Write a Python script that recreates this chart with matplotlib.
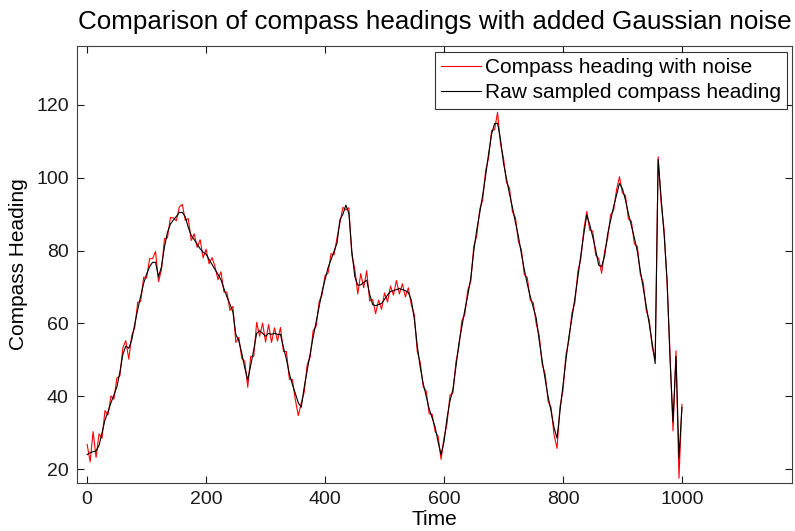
import numpy as np
import matplotlib
matplotlib.use("Agg")
import matplotlib.pyplot as plt

# time index (every 5th sample)
time = np.arange(0, 1001, 5)

# raw sampled compass heading
raw_heading = [
    24.0, 24.5, 24.8, 25.0, 26.5, 30.0, 33.5, 35.7, 38.2, 40.4,
    42.6, 46.6, 51.5, 53.8, 53.2, 55.5, 59.8, 63.8, 67.5, 71.0,
    73.6, 75.6, 76.8, 76.8, 72.8, 75.6, 81.0, 85.0, 87.3, 88.4,
    89.4, 90.5, 90.5, 89.3, 86.4, 84.2, 83.0, 81.8, 80.5, 79.6,
    79.0, 77.6, 76.2, 74.8, 73.5, 72.0, 69.6, 67.3, 65.3, 63.2,
    57.0, 55.2, 51.8, 47.8, 44.5, 48.5, 52.7, 57.3, 58.0, 57.3,
    56.5, 57.3, 57.0, 57.3, 57.0, 57.0, 53.5, 50.2, 46.2, 43.3,
    40.8, 38.2, 37.0, 42.6, 47.2, 51.8, 56.3, 60.4, 64.6, 68.8,
    72.0, 75.3, 77.5, 79.8, 82.0, 88.5, 90.0, 92.5, 90.2, 79.9,
    72.9, 70.5, 70.6, 71.3, 71.9, 68.0, 65.2, 64.9, 65.2, 65.5,
    66.6, 67.8, 68.8, 69.0, 69.3, 69.6, 69.3, 69.0, 68.5, 66.5,
    61.3, 53.9, 48.0, 43.5, 40.0, 36.6, 34.1, 31.6, 27.5, 24.0,
    27.5, 34.0, 38.7, 42.0, 48.1, 54.5, 59.1, 63.7, 67.8, 72.5,
    79.9, 85.7, 90.3, 95.3, 100.6, 106.7, 112.0, 114.9, 115.0, 110.5,
    104.0, 99.8, 95.6, 91.9, 87.8, 84.0, 79.2, 74.8, 70.8, 67.4,
    64.5, 61.5, 55.4, 49.8, 44.7, 39.9, 35.9, 31.4, 28.5, 36.0,
    43.0, 50.0, 56.4, 61.5, 66.9, 72.7, 78.8, 84.5, 89.8, 87.1,
    83.8, 80.2, 76.0, 75.6, 78.5, 84.5, 88.3, 92.0, 95.3, 98.5,
    97.0, 93.9, 90.2, 86.9, 83.5, 79.8, 74.5, 69.7, 64.8, 59.9,
    54.6, 49.0, 105.0, 94.5, 84.5, 72.0, 50.0, 33.0, 51.0, 23.0,
    37.0,
]

# compass heading with added noise
noisy_heading = [
    26.8, 22.0, 30.3, 23.2, 29.7, 28.5, 36.1, 34.9, 40.1, 39.2,
    45.0, 45.6, 53.3, 55.3, 50.2, 56.7, 58.9, 65.8, 66.1, 72.7,
    72.5, 77.8, 77.8, 79.8, 71.5, 74.8, 83.3, 83.5, 89.1, 89.0,
    88.2, 92.0, 92.7, 88.3, 88.8, 82.8, 84.6, 80.9, 83.0, 78.0,
    80.4, 76.4, 78.1, 75.6, 72.0, 74.2, 68.6, 68.6, 63.6, 64.7,
    54.8, 56.2, 50.4, 49.6, 42.5, 51.0, 50.9, 60.3, 56.5, 60.1,
    54.9, 59.7, 54.8, 58.8, 55.2, 58.9, 52.3, 52.3, 44.7, 44.6,
    39.1, 34.7, 38.2, 41.2, 48.8, 50.8, 58.1, 59.2, 66.0, 67.9,
    73.2, 73.8, 79.2, 78.8, 83.4, 87.7, 91.9, 91.2, 91.8, 78.8,
    74.9, 68.1, 73.7, 69.8, 74.5, 66.2, 66.6, 62.7, 66.4, 63.9,
    68.4, 65.9, 70.3, 67.8, 71.8, 68.1, 70.9, 67.3, 69.8, 65.1,
    62.4, 52.3, 49.3, 42.6, 41.5, 35.2, 35.1, 30.3, 29.1, 22.7,
    28.7, 32.5, 40.3, 40.9, 49.4, 53.6, 60.8, 62.5, 69.2, 71.5,
    81.2, 84.1, 91.4, 93.9, 102.1, 105.5, 113.0, 113.2, 118.0, 109.2,
    105.4, 98.7, 97.2, 90.7, 89.1, 82.5, 80.3, 73.4, 72.6, 66.4,
    65.7, 59.9, 56.8, 48.7, 46.2, 38.6, 36.9, 29.4, 25.7, 37.2,
    41.7, 51.5, 55.4, 62.9, 65.7, 74.3, 77.7, 85.8, 90.8, 85.6,
    85.4, 78.8, 77.8, 73.8, 79.8, 83.3, 89.8, 91.0, 96.7, 100.3,
    95.8, 95.2, 88.7, 88.1, 81.9, 81.2, 73.5, 71.2, 63.5, 61.0,
    53.4, 50.4, 105.8, 93.0, 85.7, 71.0, 51.8, 30.5, 52.5, 17.5,
    37.8,
]

plt.rcParams['font.family'] = ['Liberation Sans', 'DejaVu Sans']

fig = plt.figure(figsize=(7.95, 5.31), dpi=100)
ax = fig.add_axes([0.0969, 0.0904, 0.8993, 0.823])

ax.plot(time, noisy_heading, color='#ff0000', lw=0.8, label='Compass heading with noise')
ax.plot(time, raw_heading, color='black', lw=0.8, label='Raw sampled compass heading')

ax.set_xlim(-17, 1185)
ax.set_ylim(16.2, 136.2)
ax.set_xticks([0, 200, 400, 600, 800, 1000])
ax.set_yticks([20, 40, 60, 80, 100, 120])

ax.tick_params(direction='in', length=5, width=0.8, top=True, right=True,
               labelsize=14, colors='#1a1a1a', pad=6)
for s in ax.spines.values():
    s.set_color('#404040')
    s.set_linewidth(0.8)

ax.set_xlabel('Time', fontsize=15, labelpad=1)
ax.set_ylabel('Compass Heading', fontsize=15, labelpad=6)
ax.set_title('Comparison of compass headings with added Gaussian noise',
             fontsize=18.7, pad=12)

leg = ax.legend(loc='upper right', bbox_to_anchor=(787 / 795, 1 - 52 / 531),
                bbox_transform=fig.transFigure, fontsize=15, frameon=True,
                fancybox=False, borderaxespad=0, borderpad=0.3,
                labelspacing=0.3, handlelength=1.9, handletextpad=0.2)
leg.get_frame().set_edgecolor('black')
leg.get_frame().set_linewidth(0.8)

fig.savefig('out.png', dpi=100)
